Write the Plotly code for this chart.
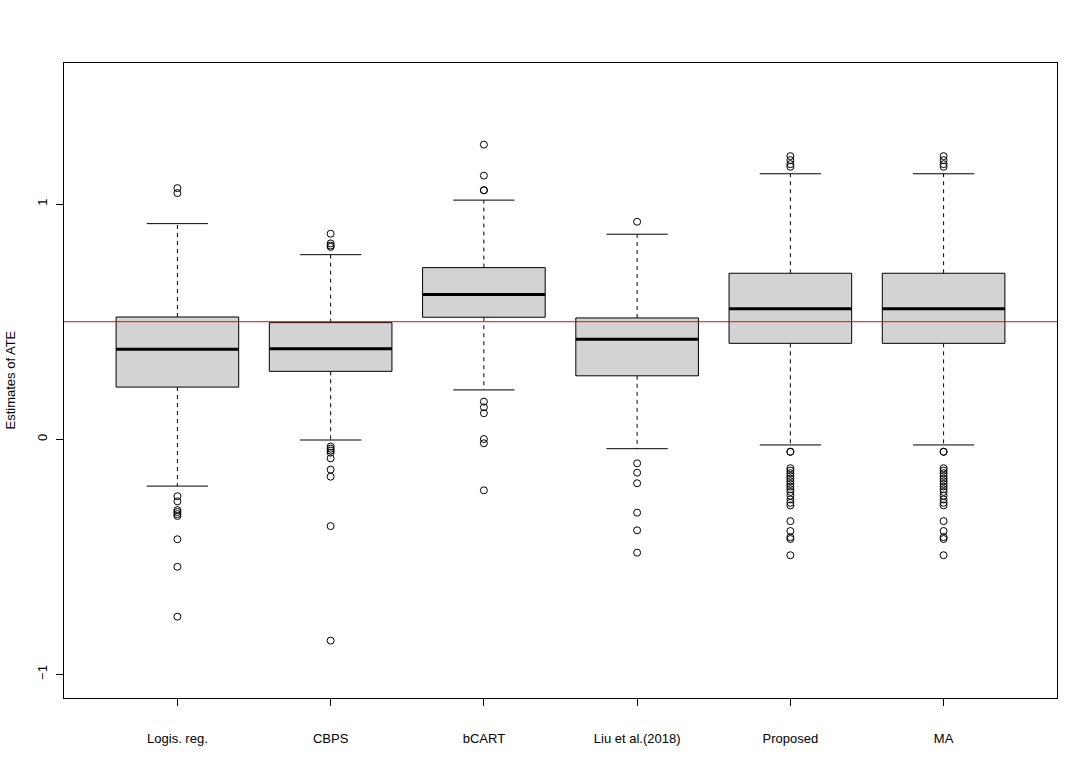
import plotly.graph_objects as go

categories = ["Logis. reg.", "CBPS", "bCART", "Liu et al.(2018)", "Proposed", "MA"]
q1 = [0.222, 0.289, 0.519, 0.270, 0.408, 0.408]
median = [0.383, 0.385, 0.616, 0.425, 0.555, 0.555]
q3 = [0.520, 0.496, 0.730, 0.516, 0.706, 0.706]
lower_whisker = [-0.199, -0.003, 0.210, -0.040, -0.024, -0.024]
upper_whisker = [0.917, 0.785, 1.017, 0.872, 1.129, 1.129]

outliers_logis = [1.068, 1.047, -0.242, -0.264, -0.301, -0.309, -0.318, -0.326, -0.425, -0.542, -0.754]
outliers_cbps = [0.874, 0.833, 0.824, 0.818, -0.031, -0.040, -0.048, -0.057, -0.081, -0.129, -0.159, -0.369, -0.856]
outliers_bcart = [1.253, 1.121, 1.059, 1.059, 0.160, 0.136, 0.111, 0.001, -0.017, -0.217]
outliers_liu = [0.925, -0.102, -0.142, -0.187, -0.312, -0.387, -0.482]
outliers_proposed = [1.204, 1.187, 1.170, 1.159, -0.053, -0.053, -0.123, -0.133, -0.144, -0.156,
                     -0.167, -0.178, -0.190, -0.201, -0.212, -0.224, -0.240, -0.256, -0.270, -0.281,
                     -0.348, -0.390, -0.416, -0.424, -0.493]
outliers_ma = [1.204, 1.187, 1.170, 1.159, -0.053, -0.053, -0.123, -0.133, -0.144, -0.156,
               -0.167, -0.178, -0.190, -0.201, -0.212, -0.224, -0.240, -0.256, -0.270, -0.281,
               -0.348, -0.390, -0.416, -0.424, -0.493]
outliers = [outliers_logis, outliers_cbps, outliers_bcart, outliers_liu, outliers_proposed, outliers_ma]

true_ate = 0.5
y_ticks = [-1, 0, 1]
y_range = [-1.1, 1.6]

FONT = "Liberation Sans, Arial, Helvetica, sans-serif"
FS = 13
half_box = 0.4
half_cap = 0.2

fig = go.Figure()
for i, cat in enumerate(categories):
    x = i + 1
    # whiskers (dashed)
    fig.add_trace(go.Scatter(x=[x, x, None, x, x],
                             y=[q3[i], upper_whisker[i], None, q1[i], lower_whisker[i]],
                             mode="lines", line=dict(color="black", width=1, dash="4px,4px"),
                             hoverinfo="skip", showlegend=False))
    # caps
    fig.add_trace(go.Scatter(x=[x - half_cap, x + half_cap, None, x - half_cap, x + half_cap],
                             y=[upper_whisker[i], upper_whisker[i], None, lower_whisker[i], lower_whisker[i]],
                             mode="lines", line=dict(color="black", width=1),
                             hoverinfo="skip", showlegend=False))
    # box
    fig.add_trace(go.Scatter(x=[x - half_box, x + half_box, x + half_box, x - half_box, x - half_box],
                             y=[q1[i], q1[i], q3[i], q3[i], q1[i]],
                             mode="lines", fill="toself", fillcolor="#D3D3D3",
                             line=dict(color="black", width=1),
                             hoverinfo="skip", showlegend=False))
    # median
    fig.add_trace(go.Scatter(x=[x - half_box, x + half_box], y=[median[i], median[i]],
                             mode="lines", line=dict(color="black", width=3),
                             hoverinfo="skip", showlegend=False))
    # outliers
    fig.add_trace(go.Scatter(x=[x] * len(outliers[i]), y=outliers[i], mode="markers",
                             marker=dict(symbol="circle-open", size=7, color="black",
                                         line=dict(width=1, color="black")),
                             hoverinfo="skip", showlegend=False))

fig.add_shape(type="line", xref="paper", x0=0, x1=1, yref="y", y0=true_ate, y1=true_ate,
              line=dict(color="#FF0000", width=1))

fig.add_annotation(text="Estimates of ATE", xref="paper", yref="paper", x=0, y=0.5,
                   xanchor="center", yanchor="middle", xshift=-54, textangle=-90,
                   showarrow=False, font=dict(family=FONT, size=FS, color="black"))

fig.update_layout(
    width=1090, height=778,
    margin=dict(l=64, r=33, t=63, b=80),
    paper_bgcolor="white", plot_bgcolor="white",
    font=dict(family=FONT, size=FS, color="black"),
    xaxis=dict(range=[0.26, 6.74], tickmode="array", tickvals=list(range(1, len(categories) + 1)),
               ticktext=categories, ticks="outside", ticklen=7, tickcolor="black", tickwidth=1,
               showline=True, linecolor="black", linewidth=1, mirror=True,
               showgrid=False, zeroline=False, ticklabelstandoff=21,
               tickfont=dict(family=FONT, size=FS, color="black")),
    yaxis=dict(range=y_range, tickmode="array", tickvals=y_ticks, ticks="outside", ticklen=7,
               tickcolor="black", tickwidth=1, tickangle=-90,
               showline=True, linecolor="black", linewidth=1, mirror=True,
               showgrid=False, zeroline=False, ticklabelstandoff=4,
               tickfont=dict(family=FONT, size=FS, color="black")),
)

fig.write_html("out.html", config={"displayModeBar": False},
               post_script="document.body.style.margin='0';document.body.style.overflow='hidden';")
